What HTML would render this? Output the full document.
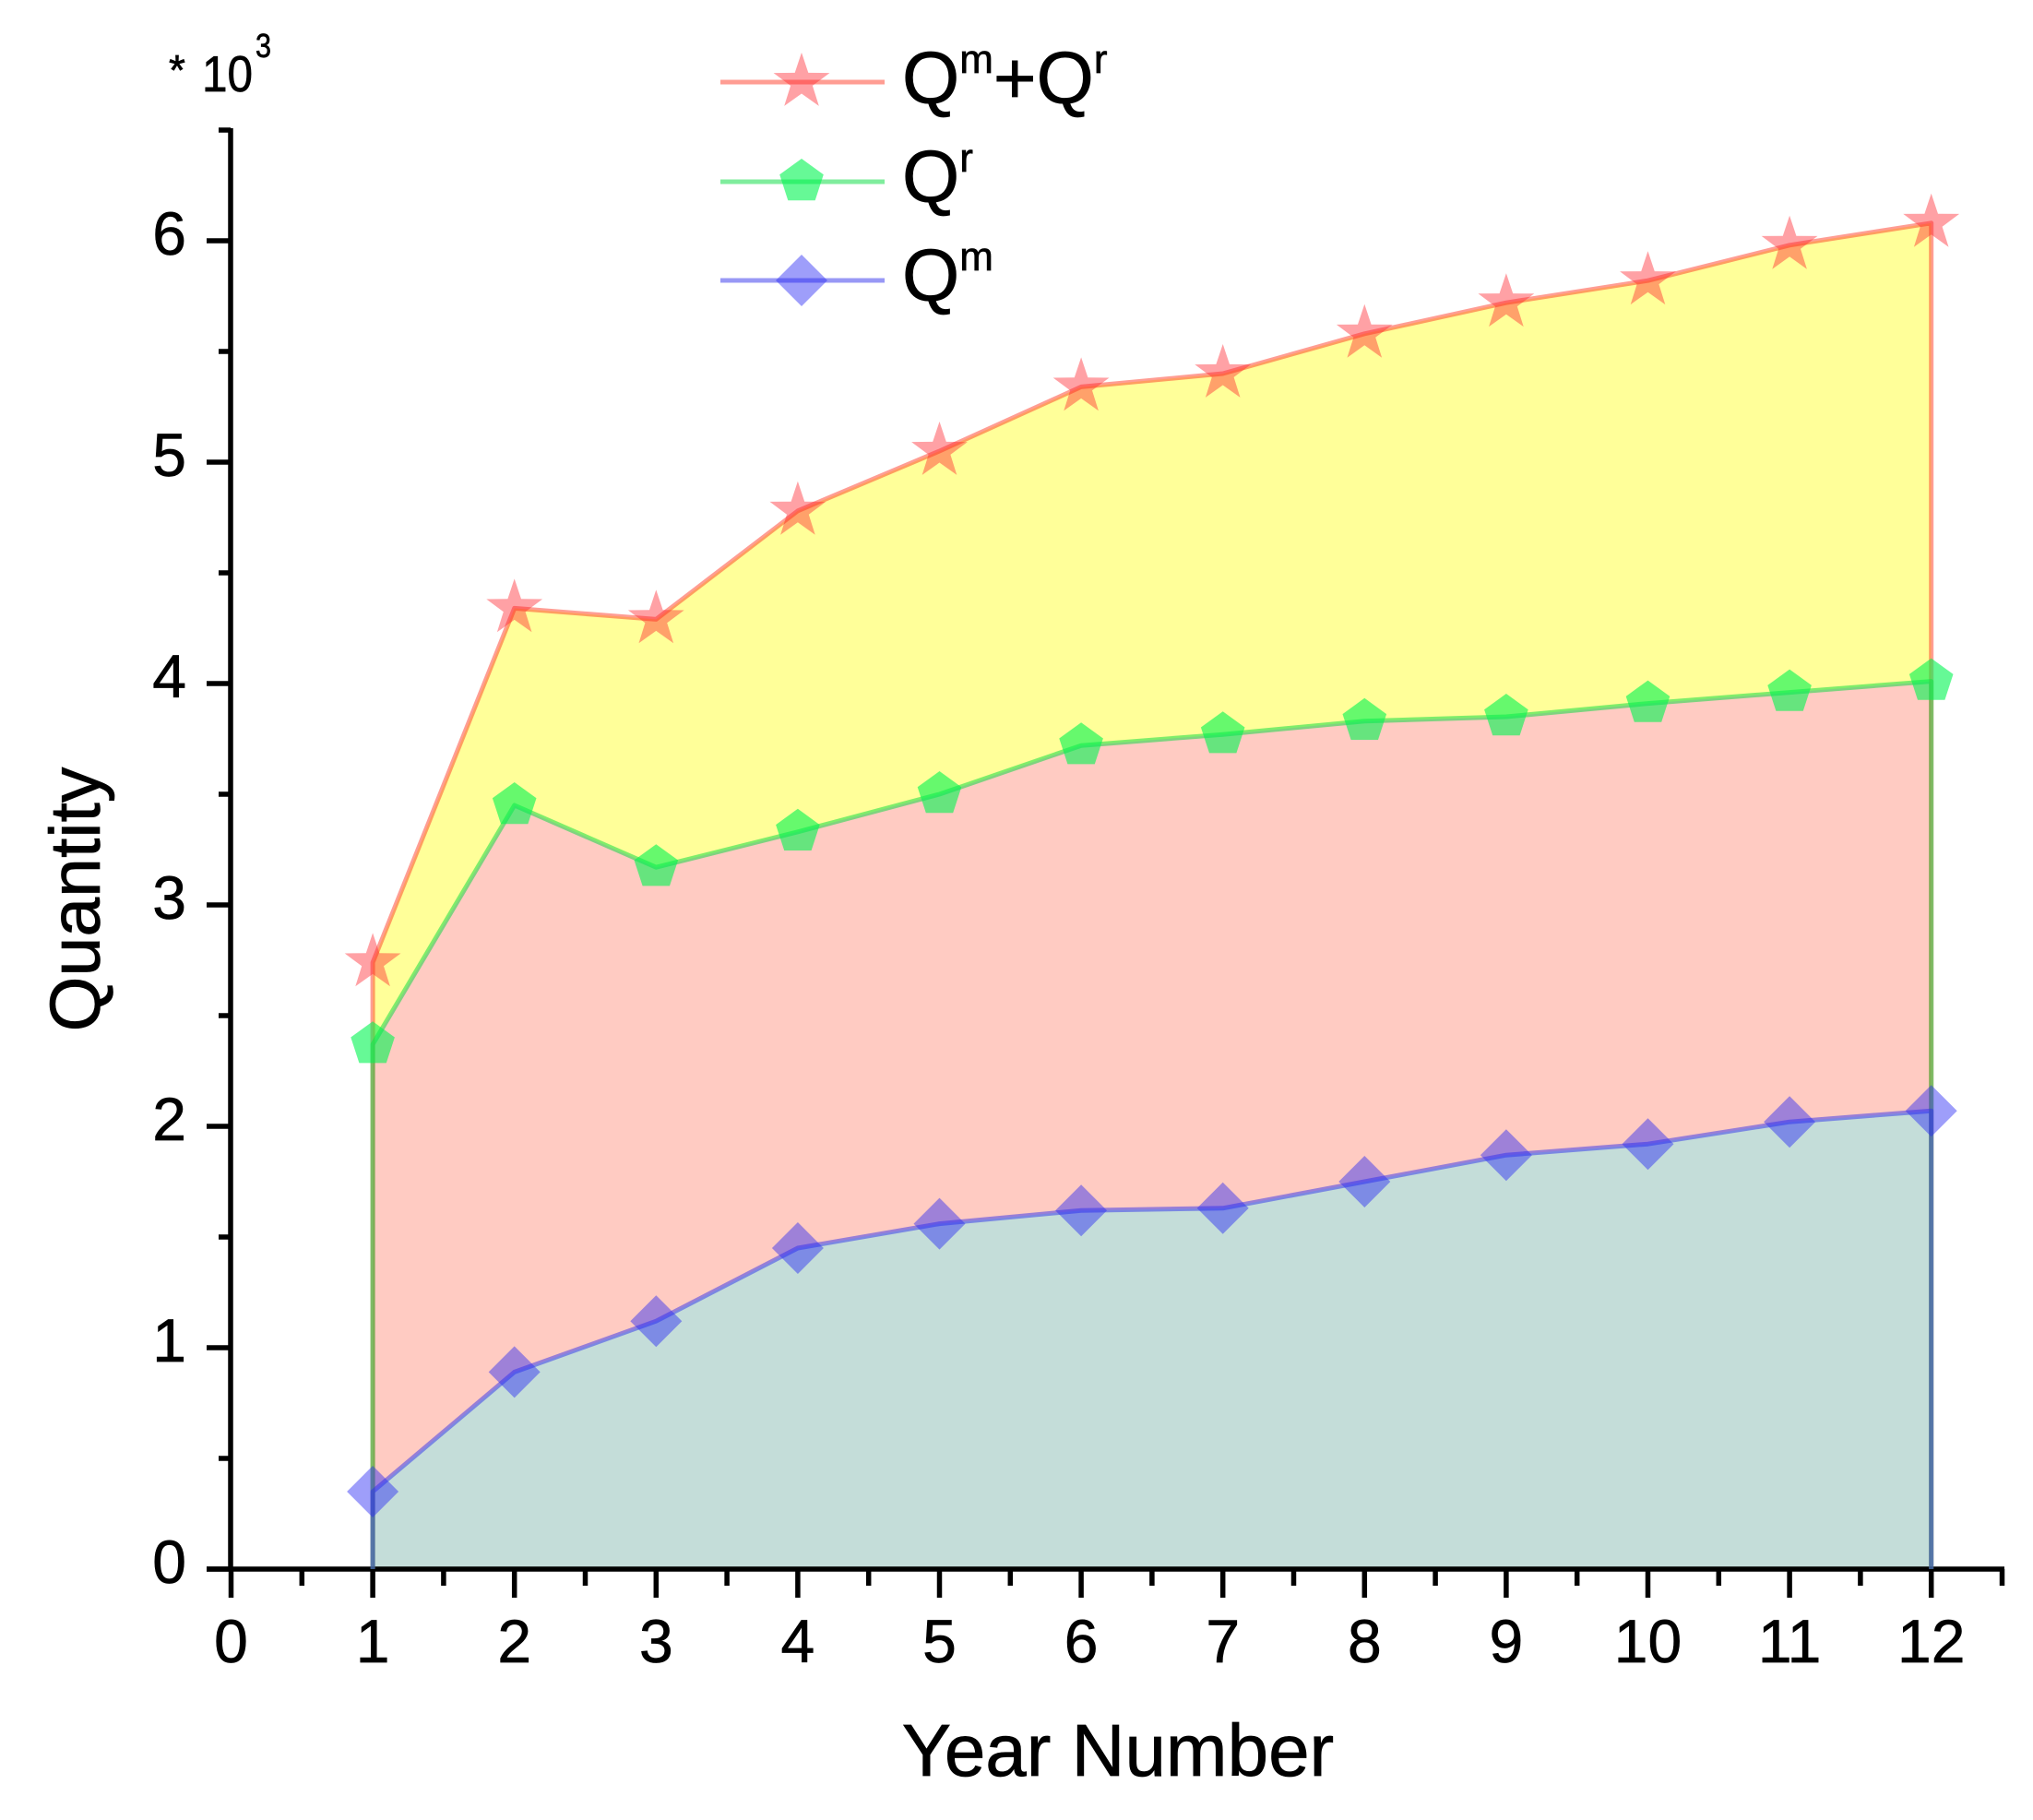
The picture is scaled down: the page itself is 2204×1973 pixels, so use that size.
<!DOCTYPE html>
<html lang="en">
<head>
<meta charset="utf-8">
<title>Quantity by Year Number</title>
<style>
html,body{margin:0;padding:0;background:#fff;}
svg{display:block;font-family:"Liberation Sans",Arial,sans-serif;fill:#000;}
text{stroke:#000;stroke-width:0.7px;}
</style>
</head>
<body>
<svg id="chart" xmlns="http://www.w3.org/2000/svg" width="2204" height="1973" viewBox="0 0 2204 1973">
  <rect width="2204" height="1973" fill="#ffffff"/>
  <g id="plot"></g>
  <g id="axes"></g>
  <g id="marks"></g>

  <g>
    <text x="183" y="92" font-size="46">*</text>
    <text transform="translate(219 99) scale(0.9 1)" font-size="55">10</text>
    <text transform="translate(277 62) scale(0.85 1)" font-size="36">3</text>
  </g>

  <text transform="translate(108 975) rotate(-90)" text-anchor="middle" font-size="77">Quantity</text>
  <text x="1212" y="1925" text-anchor="middle" font-size="80">Year Number</text>

  <g id="legend">
    <text x="978" y="112" font-size="80">Q<tspan font-size="44" dy="-33">m</tspan><tspan dy="33">+Q</tspan><tspan font-size="44" dy="-33">r</tspan></text>
    <text x="978" y="219" font-size="80">Q<tspan font-size="44" dy="-33">r</tspan></text>
    <text x="978" y="326" font-size="80">Q<tspan font-size="44" dy="-33">m</tspan></text>
  </g>
</svg>
<script>
const years = [1, 2, 3, 4, 5, 6, 7, 8, 9, 10, 11, 12];
const totalValues = [2.74, 4.34, 4.29, 4.78, 5.05, 5.34, 5.40, 5.58, 5.72, 5.82, 5.98, 6.08];
const recycledValues = [2.37, 3.45, 3.17, 3.33, 3.50, 3.72, 3.77, 3.83, 3.85, 3.91, 3.96, 4.01];
const manufacturedValues = [0.35, 0.89, 1.12, 1.45, 1.56, 1.62, 1.63, 1.75, 1.87, 1.92, 2.02, 2.07];
const xTickLabels = [0, 1, 2, 3, 4, 5, 6, 7, 8, 9, 10, 11, 12];
const yTickLabels = [0, 1, 2, 3, 4, 5, 6];
const xMinorTicks = [0.5, 1.5, 2.5, 3.5, 4.5, 5.5, 6.5, 7.5, 8.5, 9.5, 10.5, 11.5, 12.5];
const yMinorTicks = [0.5, 1.5, 2.5, 3.5, 4.5, 5.5, 6.5];

const NS = 'http://www.w3.org/2000/svg';
const sx = v => 250.5 + v * 153.6;
const sy = v => 1701 - v * 240;

function make(parent, tag, attrs, text) {
  const el = document.createElementNS(NS, tag);
  for (const k in attrs) el.setAttribute(k, attrs[k]);
  if (text !== undefined) el.textContent = text;
  parent.appendChild(el);
  return el;
}
function shapePoints(kind, cx, cy) {
  const pts = [];
  if (kind === 'star') {
    for (let i = 0; i < 10; i++) {
      const r = i % 2 ? 12.5 : 32;
      const a = -Math.PI / 2 + i * Math.PI / 5;
      pts.push((cx + r * Math.cos(a)).toFixed(1) + ',' + (cy + r * Math.sin(a)).toFixed(1));
    }
  } else if (kind === 'pentagon') {
    for (let i = 0; i < 5; i++) {
      const a = -Math.PI / 2 + i * 2 * Math.PI / 5;
      pts.push((cx + 25 * Math.cos(a)).toFixed(1) + ',' + (cy + 25 * Math.sin(a)).toFixed(1));
    }
  } else {
    pts.push(cx + ',' + (cy - 28), (cx + 28) + ',' + cy, cx + ',' + (cy + 28), (cx - 28) + ',' + cy);
  }
  return pts.join(' ');
}

const plot = document.getElementById('plot');
const axes = document.getElementById('axes');
const marks = document.getElementById('marks');
const legend = document.getElementById('legend');

const seriesList = [
  {key: 'total', values: totalValues, fill: '#ffff99', line: 'rgba(255,60,40,0.5)', marker: 'rgba(255,30,40,0.42)', kind: 'star'},
  {key: 'qr', values: recycledValues, fill: '#ffcbc2', line: 'rgba(0,220,60,0.5)', marker: 'rgba(0,245,80,0.6)', kind: 'pentagon'},
  {key: 'qm', values: manufacturedValues, fill: '#c4ddd9', line: 'rgba(50,50,235,0.5)', marker: 'rgba(40,40,245,0.45)', kind: 'diamond'}
];

seriesList.forEach(s => {
  const top = years.map((y, i) => sx(y) + ',' + sy(s.values[i]));
  const d = 'M' + sx(years[0]) + ',' + sy(0) + ' L' + top.join(' L') + ' L' + sx(years[years.length - 1]) + ',' + sy(0) + ' Z';
  const area = make(plot, 'path', {d: d, fill: s.fill, stroke: 'none'});
  
  
});

// axes, ticks and labels
const xLine = make(axes, 'line', {x1: 224, x2: sx(12.5) + 2.5, y1: sy(0), y2: sy(0), stroke: '#000', 'stroke-width': 5.5});


const yLine = make(axes, 'line', {x1: 250, x2: 250, y1: sy(6.5) - 2, y2: sy(0), stroke: '#000', 'stroke-width': 5.5});



xTickLabels.forEach(v => {
  const t = make(axes, 'line', {x1: sx(v), x2: sx(v), y1: sy(0), y2: sy(0) + 31, stroke: '#000', 'stroke-width': 5.5});
  
  
  const l = make(axes, 'text', {x: sx(v), y: 1802, 'text-anchor': 'middle', 'font-size': 66}, String(v));
  
  
});
xMinorTicks.forEach(v => {
  const t = make(axes, 'line', {x1: sx(v), x2: sx(v), y1: sy(0), y2: sy(0) + 18, stroke: '#000', 'stroke-width': 5.5});
  
  
});
yTickLabels.forEach(v => {
  const t = make(axes, 'line', {x1: 224, x2: 250, y1: sy(v), y2: sy(v), stroke: '#000', 'stroke-width': 5.5});
  
  
  const l = make(axes, 'text', {x: 202, y: sy(v) + 15, 'text-anchor': 'end', 'font-size': 66}, String(v));
  
  
});
yMinorTicks.forEach(v => {
  const t = make(axes, 'line', {x1: 237, x2: 250, y1: sy(v), y2: sy(v), stroke: '#000', 'stroke-width': 5.5});
  
  
});

// series outlines and markers
seriesList.forEach(s => {
  const top = years.map((y, i) => sx(y) + ',' + sy(s.values[i]));
  const d = 'M' + sx(years[0]) + ',' + sy(0) + ' L' + top.join(' L') + ' L' + sx(years[years.length - 1]) + ',' + sy(0);
  const outline = make(marks, 'path', {d: d, fill: 'none', stroke: s.line, 'stroke-width': 5, 'stroke-linejoin': 'round'});
  
  
});
seriesList.forEach(s => {
  years.forEach((y, i) => {
    const m = make(marks, 'polygon', {points: shapePoints(s.kind, sx(y), sy(s.values[i])), fill: s.marker});
    
    
  });
});

// legend swatches
const legendRows = [
  {s: seriesList[0], y: 89},
  {s: seriesList[1], y: 197},
  {s: seriesList[2], y: 304}
];
legendRows.forEach(r => {
  const ln = make(legend, 'line', {x1: 781, x2: 959, y1: r.y, y2: r.y, stroke: r.s.line, 'stroke-width': 5});
  
  
  const mk = make(legend, 'polygon', {points: shapePoints(r.s.kind, 869, r.y), fill: r.s.marker});
  
  
});
</script>
</body>
</html>
